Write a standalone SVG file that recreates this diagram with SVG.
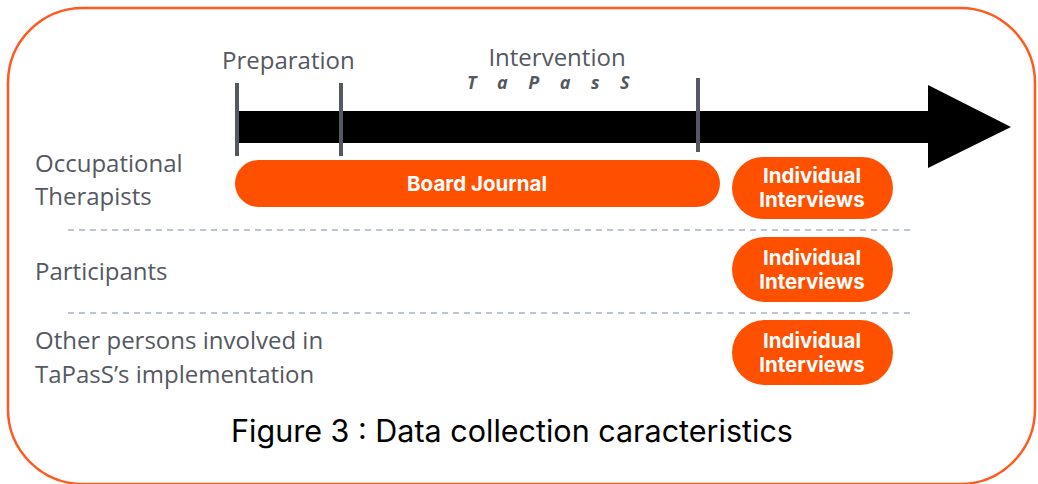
<svg xmlns="http://www.w3.org/2000/svg" width="1038" height="484" viewBox="0 0 1038 484">
<style>
.lbl{font-family:"Open Sans","Liberation Sans",sans-serif;font-size:24px;fill:#545861}
.pill{fill:#FF5000}
.pt{font-family:"Inter","Noto Sans","Liberation Sans",sans-serif;font-weight:700;font-size:20.5px;fill:#FFFFFF;text-anchor:middle}
.tick{stroke:#545861;stroke-width:4}
.dash{stroke:#A6B3C5;stroke-width:1.5;stroke-dasharray:6 5}
</style>
<rect x="8" y="8" width="1027" height="476" rx="75" ry="75" fill="#FFFFFF" stroke="#FF5A1F" stroke-width="2.5"/>
<g id="timeline">
<polygon points="235,111 928,111 928,85 1011,127 928,168 928,143 235,143" fill="#000000"/>
<line class="tick" x1="237" y1="83" x2="237" y2="156"/>
<line class="tick" x1="341" y1="83" x2="341" y2="156"/>
<line class="tick" x1="698" y1="78" x2="698" y2="152"/>
<text class="lbl" x="222" y="69">Preparation</text>
<text class="lbl" x="557" y="66" text-anchor="middle">Intervention</text>
<text x="467" y="89" style="font-family:'Open Sans','Liberation Sans',sans-serif;font-size:18px;font-weight:700;font-style:italic;fill:#545861;letter-spacing:20.5px">TaPasS</text>
</g>
<g id="row-labels">
<text class="lbl" x="35" y="172">Occupational</text>
<text class="lbl" x="35" y="205">Therapists</text>
<text class="lbl" x="35" y="280">Participants</text>
<text class="lbl" x="35" y="349">Other persons involved in</text>
<text class="lbl" x="35" y="383">TaPasS’s implementation</text>
</g>
<g id="connectors">
<line class="dash" x1="68" y1="230" x2="910" y2="230"/>
<line class="dash" x1="68" y1="313" x2="910" y2="313"/>
</g>
<g id="board-journal">
<rect class="pill" x="235" y="160" width="485" height="47" rx="23.5"/>
<text class="pt" x="477" y="191">Board Journal</text>
</g>
<g id="interviews-ot">
<rect class="pill" x="732" y="157" width="161" height="62" rx="31"/>
<text class="pt" x="812" y="183">Individual</text>
<text class="pt" x="812" y="207">Interviews</text>
</g>
<g id="interviews-participants">
<rect class="pill" x="732" y="237" width="161" height="65" rx="32.5"/>
<text class="pt" x="812" y="265">Individual</text>
<text class="pt" x="812" y="289">Interviews</text>
</g>
<g id="interviews-others">
<rect class="pill" x="732" y="320" width="161" height="65" rx="32.5"/>
<text class="pt" x="812" y="348">Individual</text>
<text class="pt" x="812" y="372">Interviews</text>
</g>
<text x="512" y="442" text-anchor="middle" style="font-family:'Inter','Lato','Liberation Sans',sans-serif;font-size:30.5px;fill:#000000">Figure 3 : Data collection caracteristics</text>
</svg>
